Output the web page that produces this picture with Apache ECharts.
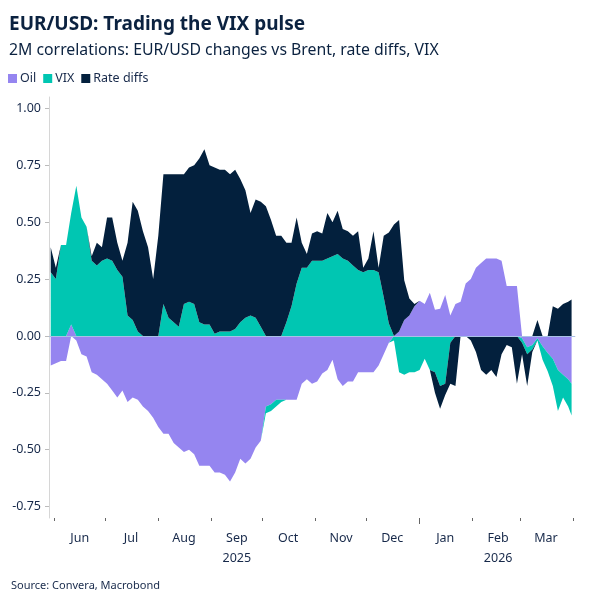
<!DOCTYPE html>
<html>
<head>
<meta charset="utf-8">
<script src="https://cdn.jsdelivr.net/npm/echarts@6/dist/echarts.min.js"></script>
<style>
  html, body { margin: 0; padding: 0; background: #fff; }
  #chart { width: 600px; height: 600px; }
</style>
</head>
<body>
<div id="chart"></div>
<script>
// 2M rolling correlations, sampled every ~3 days
const dates = [
  '2025-05-30', '2025-06-02', '2025-06-05', '2025-06-08', '2025-06-11', '2025-06-14', '2025-06-17', '2025-06-20',
  '2025-06-23', '2025-06-26', '2025-06-29', '2025-07-02', '2025-07-05', '2025-07-08', '2025-07-11', '2025-07-14',
  '2025-07-17', '2025-07-20', '2025-07-23', '2025-07-26', '2025-07-29', '2025-08-01', '2025-08-04', '2025-08-07',
  '2025-08-10', '2025-08-13', '2025-08-16', '2025-08-19', '2025-08-22', '2025-08-25', '2025-08-28', '2025-08-31',
  '2025-09-03', '2025-09-06', '2025-09-09', '2025-09-12', '2025-09-15', '2025-09-18', '2025-09-21', '2025-09-24',
  '2025-09-27', '2025-09-30', '2025-10-03', '2025-10-06', '2025-10-09', '2025-10-12', '2025-10-15', '2025-10-18',
  '2025-10-21', '2025-10-24', '2025-10-27', '2025-10-30', '2025-11-02', '2025-11-05', '2025-11-08', '2025-11-11',
  '2025-11-14', '2025-11-17', '2025-11-20', '2025-11-23', '2025-11-26', '2025-11-29', '2025-12-02', '2025-12-05',
  '2025-12-08', '2025-12-11', '2025-12-14', '2025-12-17', '2025-12-20', '2025-12-23', '2025-12-26', '2025-12-29',
  '2026-01-01', '2026-01-04', '2026-01-07', '2026-01-10', '2026-01-13', '2026-01-16', '2026-01-19', '2026-01-22',
  '2026-01-25', '2026-01-28', '2026-01-31', '2026-02-03', '2026-02-06', '2026-02-09', '2026-02-12', '2026-02-15',
  '2026-02-18', '2026-02-21', '2026-02-24', '2026-02-27', '2026-03-02', '2026-03-05', '2026-03-08', '2026-03-11',
  '2026-03-14', '2026-03-17', '2026-03-20', '2026-03-23', '2026-03-26', '2026-03-29', '2026-03-31'
]

const oil = [
  -0.13, -0.12, -0.11, -0.11, 0.05, -0.02, -0.08, -0.09,
  -0.16, -0.17, -0.19, -0.21, -0.24, -0.27, -0.24, -0.29,
  -0.27, -0.28, -0.31, -0.33, -0.36, -0.40, -0.43, -0.43,
  -0.47, -0.49, -0.51, -0.50, -0.52, -0.57, -0.57, -0.57,
  -0.60, -0.60, -0.61, -0.64, -0.60, -0.54, -0.56, -0.54,
  -0.49, -0.46, -0.31, -0.30, -0.28, -0.28, -0.28, -0.28,
  -0.28, -0.21, -0.19, -0.21, -0.20, -0.165, -0.15, -0.105,
  -0.19, -0.22, -0.20, -0.20, -0.16, -0.16, -0.16, -0.16,
  -0.13, -0.08, -0.03, 0, 0.02, 0.07, 0.09, 0.13,
  0.155, 0.14, 0.19, 0.115, 0.12, 0.18, 0.09, 0.14,
  0.15, 0.23, 0.25, 0.30, 0.32, 0.34, 0.34, 0.34,
  0.33, 0.22, 0.22, 0.22, -0.01, -0.05, -0.04, -0.01,
  -0.045, -0.075, -0.10, -0.15, -0.17, -0.19, -0.21
]

const vix = [
  0.28, 0.25, 0.40, 0.40, 0.49, 0.66, 0.52, 0.48,
  0.33, 0.31, 0.33, 0.34, 0.33, 0.29, 0.26, 0.09,
  0.07, 0.02, 0, 0, 0, 0, 0.14, 0.08,
  0.06, 0.04, 0.14, 0.15, 0.14, 0.06, 0.05, 0.05,
  0.01, 0.02, 0.02, 0.02, 0.03, 0.06, 0.08, 0.09,
  0.08, 0.04, -0.03, -0.03, -0.03, -0.01, 0.06, 0.13,
  0.23, 0.30, 0.30, 0.33, 0.33, 0.33, 0.34, 0.35,
  0.36, 0.34, 0.33, 0.31, 0.29, 0.28, 0.29, 0.29,
  0.28, 0.17, 0.055, -0.02, -0.16, -0.17, -0.16, -0.16,
  -0.15, -0.10, -0.15, -0.16, -0.22, -0.21, -0.03, 0,
  0, 0, 0, 0, 0, 0, 0, 0,
  0, 0, 0, 0, -0.02, -0.03, -0.02, -0.01,
  -0.06, -0.08, -0.12, -0.18, -0.10, -0.12, -0.14
]

const rateDiffs = [
  0.11, 0.05, 0, 0, 0, 0, 0, 0,
  0.02, 0.10, 0.06, 0.18, 0.19, 0.12, 0.07, 0.32,
  0.52, 0.53, 0.46, 0.39, 0.25, 0.44, 0.57, 0.63,
  0.65, 0.67, 0.57, 0.59, 0.61, 0.72, 0.77, 0.70,
  0.73, 0.71, 0.71, 0.69, 0.70, 0.63, 0.56, 0.45,
  0.52, 0.55, 0.57, 0.51, 0.44, 0.44, 0.35, 0.28,
  0.29, 0.11, 0.06, 0.12, 0.13, 0.12, 0.20, 0.15,
  0.19, 0.13, 0.13, 0.13, 0.17, 0.02, 0.05, 0.17,
  0.02, 0.27, 0.40, 0.49, 0.49, 0.175, 0.075, 0.01,
  0, 0, 0, -0.09, -0.10, -0.05, -0.18, -0.22,
  0, 0, -0.02, -0.07, -0.15, -0.17, -0.15, -0.18,
  -0.08, -0.04, -0.05, -0.21, -0.05, -0.14, -0.01, 0.07,
  0, 0, 0.13, 0.12, 0.14, 0.15, 0.16
]

const yTicks = [-0.75, -0.5, -0.25, 0, 0.25, 0.5, 0.75, 1]
const monthStarts = [
  '2025-06-01', '2025-07-01', '2025-08-01', '2025-09-01', '2025-10-01', '2025-11-01',
  '2025-12-01', '2026-01-01', '2026-02-01', '2026-03-01', '2026-04-01'
]
const monthLabels = ['Jun', 'Jul', 'Aug', 'Sep', 'Oct', 'Nov', 'Dec', 'Jan', 'Feb', 'Mar']
const yearLabels = { Sep: '2025', Feb: '2026' }

const colors = {
  oil: '#9585f0',
  vix: '#00c6b2',
  rate: '#03203d'
}
const textColor = '#17294a'

const ts = dates.map(d => new Date(d).getTime())
const tickValues = monthStarts.map(d => new Date(d).getTime())
// labels sit mid-month between the month ticks
const labelValues = monthStarts.slice(0, -1).map(d => new Date(d.slice(0, 8) + '16').getTime())

// split each series into its positive and negative part so the two stacks stay apart.
// value goes first so the stack sums the value dimension, not the dates
function part(values, positive) {
  return values.map((v, i) => [positive ? Math.max(v, 0) : Math.min(v, 0), ts[i]])
}

function area(name, color, stack, data) {
  return {
    name,
    type: 'line',
    stack,
    stackStrategy: 'all',
    data,
    encode: { x: 1, y: 0 },
    symbol: 'none',
    showSymbol: false,
    silent: true,
    lineStyle: { width: 0, opacity: 0 },
    itemStyle: { color },
    areaStyle: { color, opacity: 1 },
    emphasis: { disabled: true }
  }
}

const series = [
  area('Oil', colors.oil, 'pos', part(oil, true)),
  area('VIX', colors.vix, 'pos', part(vix, true)),
  area('Rate diffs', colors.rate, 'pos', part(rateDiffs, true)),
  area('Oil', colors.oil, 'neg', part(oil, false)),
  area('VIX', colors.vix, 'neg', part(vix, false)),
  area('Rate diffs', colors.rate, 'neg', part(rateDiffs, false))
]

series[5].markLine = {
  silent: true,
  symbol: 'none',
  label: { show: false },
  lineStyle: { color: '#a9c0e6', width: 1, type: 'solid' },
  data: [{ yAxis: 0 }]
}

const xMin = new Date('2025-05-29').getTime()
const xMax = new Date('2026-04-02').getTime()

function tickAxis(values, length) {
  return {
    type: 'value',
    position: 'bottom',
    min: xMin,
    max: xMax,
    axisLine: { show: false },
    axisTick: {
      show: true,
      customValues: values,
      length,
      lineStyle: { color: '#666' }
    },
    axisLabel: { show: false },
    splitLine: { show: false }
  }
}

const chart = echarts.init(document.getElementById('chart'))

chart.setOption({
  animation: false,
  textStyle: { fontFamily: 'Noto Sans' },
  title: [
    {
      text: 'EUR/USD: Trading the VIX pulse',
      left: 4,
      top: 10,
      textStyle: { fontSize: 19, fontWeight: 'bold', color: '#0b2240', fontFamily: 'Noto Sans' }
    },
    {
      text: '2M correlations: EUR/USD changes vs Brent, rate diffs, VIX',
      left: 4,
      top: 37,
      textStyle: { fontSize: 15.8, fontWeight: 'normal', color: '#0b2240', fontFamily: 'Noto Sans' }
    },
    {
      text: 'Source: Convera, Macrobond',
      left: 6,
      top: 575,
      textStyle: { fontSize: 11, fontWeight: 'normal', color: textColor, fontFamily: 'Noto Sans' }
    }
  ],
  legend: {
    left: 3,
    top: 67,
    itemWidth: 9,
    itemHeight: 9,
    itemGap: 7,
    icon: 'rect',
    textStyle: { fontSize: 12.5, color: textColor, padding: [0, 0, 0, -2] },
    data: [
      { name: 'Oil', itemStyle: { color: colors.oil } },
      { name: 'VIX', itemStyle: { color: colors.vix } },
      { name: 'Rate diffs', itemStyle: { color: colors.rate } }
    ]
  },
  grid: {
    left: 49,
    right: 25,
    top: 97,
    bottom: 82,
    containLabel: false
  },
  xAxis: [
    {
      type: 'value',
      min: xMin,
      max: xMax,
      axisLine: { show: true, lineStyle: { color: '#d6d6d6', width: 1 } },
      axisTick: { show: false },
      axisLabel: {
        show: true,
        customValues: labelValues,
        margin: 10,
        fontSize: 12.5,
        lineHeight: 20,
        color: textColor,
        formatter: v => {
          const m = monthLabels[labelValues.indexOf(v)]
          return yearLabels[m] ? m + '\n' + yearLabels[m] : m
        }
      },
      splitLine: { show: false }
    },
    // month boundary ticks, and a longer one at the year change
    tickAxis(tickValues, 3),
    tickAxis([new Date('2026-01-01').getTime()], 6)
  ],
  yAxis: {
    type: 'value',
    min: -0.8,
    max: 1.05,
    axisLine: { show: true, lineStyle: { color: '#d6d6d6', width: 1 } },
    axisTick: {
      show: true,
      customValues: yTicks,
      length: 4,
      lineStyle: { color: '#bbb' }
    },
    axisLabel: {
      customValues: yTicks,
      margin: 8,
      fontSize: 12.5,
      color: textColor,
      formatter: v => v.toFixed(2)
    },
    splitLine: { show: false }
  },
  series
})
</script>
</body>
</html>
